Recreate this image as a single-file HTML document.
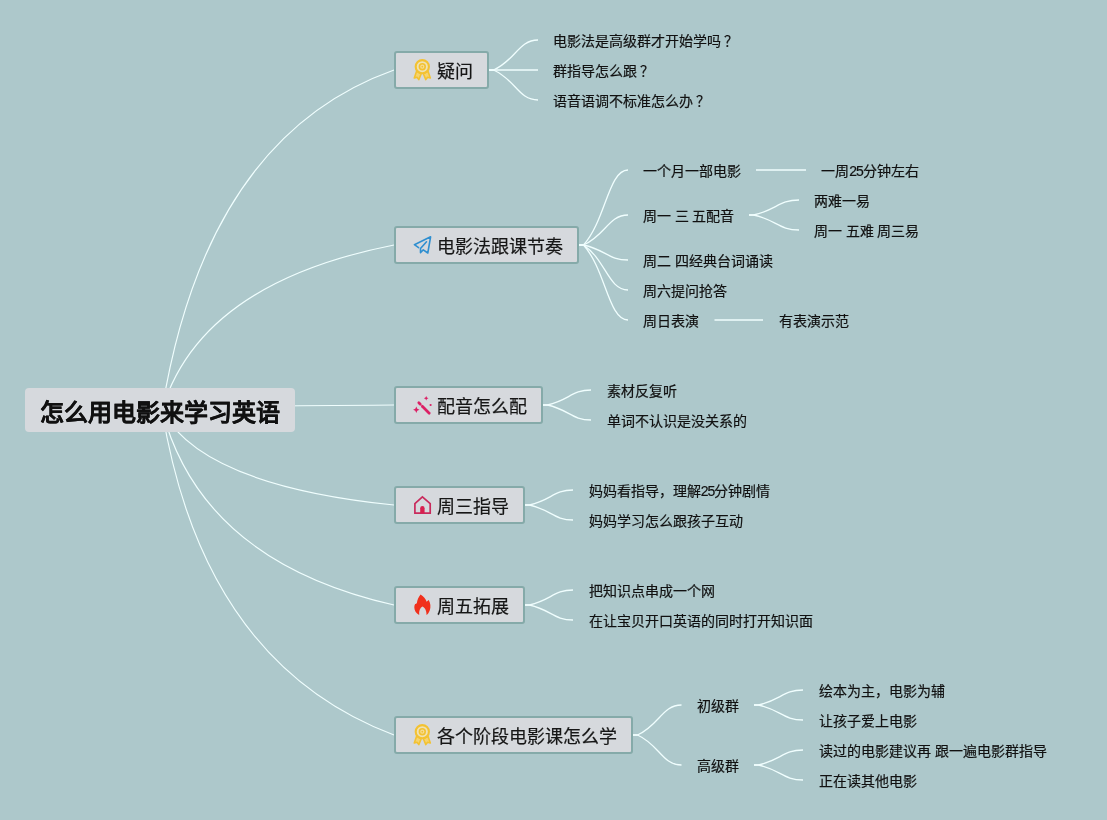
<!DOCTYPE html>
<html lang="zh-CN"><head><meta charset="utf-8"><style>
*{margin:0;padding:0;box-sizing:border-box}
html,body{width:1107px;height:820px;overflow:hidden;background:#adc8cb;font-family:"Liberation Sans",sans-serif;color:#1a1a1a}
svg.lines{position:absolute;left:0;top:0}
#w{position:absolute;left:0;top:0;width:1107px;height:820px;will-change:transform}
.c{position:absolute;background:#d6d9dd;border-radius:4px;font-weight:bold;font-size:24px;display:flex;align-items:center;justify-content:center;color:#111;padding-top:1px;-webkit-text-stroke:0.15px #111}
.m{position:absolute;background:#d6d9dd;border:2px solid #85aaa9;border-radius:3px;font-size:18px;white-space:nowrap;color:#161616}
.m .ic{position:absolute;left:14px;top:4px;width:26px;height:26px}
.m .ic svg{display:block}
.m .tx{position:absolute;left:41.1px;top:3px;line-height:33px;-webkit-text-stroke:0.2px #161616}
.l{position:absolute;font-size:14px;white-space:nowrap;line-height:20px;color:#111;-webkit-text-stroke:0.2px #111}
</style></head><body><div id="w">
<svg class="lines" width="1107" height="820"><g fill="none" stroke="#f0fefe" stroke-width="1.3">
<path d="M162,410 Q206.3,136.8 394,70" stroke-width="1.15"/>
<path d="M489,70 L493.5,70 C515.8,60.1 518.4,40 538,40"/>
<path d="M489,70 L538,70"/>
<path d="M489,70 L493.5,70 C515.8,79.9 518.4,100 538,100"/>
<path d="M162,410 Q200.3,283.1 394,245" stroke-width="1.15"/>
<path d="M579,245 L583.5,245 C605.8,220.2 608.4,170 628,170"/>
<path d="M579,245 L583.5,245 C605.8,235.1 608.4,215 628,215"/>
<path d="M579,245 L583.5,245 C605.8,249.9 608.4,260 628,260"/>
<path d="M579,245 L583.5,245 C605.8,259.9 608.4,290 628,290"/>
<path d="M579,245 L583.5,245 C605.8,269.8 608.4,320 628,320"/>
<path d="M162,410 Q202.0,406.1 394,405" stroke-width="1.15"/>
<path d="M543,405 L547.5,405 C569.2,400.1 571.9,390 591,390"/>
<path d="M543,405 L547.5,405 C569.2,409.9 571.9,420 591,420"/>
<path d="M162,410 Q201.5,485.2 394,505" stroke-width="1.15"/>
<path d="M525,505 L529.5,505 C551.2,500.1 553.9,490 573,490"/>
<path d="M525,505 L529.5,505 C551.2,509.9 553.9,520 573,520"/>
<path d="M162,410 Q201.9,561.4 394,605" stroke-width="1.15"/>
<path d="M525,605 L529.5,605 C551.2,600.0 553.9,590 573,590"/>
<path d="M525,605 L529.5,605 C551.2,610.0 553.9,620 573,620"/>
<path d="M162,410 Q203.1,663.0 394,735" stroke-width="1.15"/>
<path d="M633,735 L637.5,735 C659.5,725.1 662.1,705 681.5,705"/>
<path d="M633,735 L637.5,735 C659.5,744.9 662.1,765 681.5,765"/>
<path d="M756,170 L806,170"/>
<path d="M749,215 L753.5,215 C776.2,210.1 779.0,200 799,200"/>
<path d="M749,215 L753.5,215 C776.2,219.9 779.0,230 799,230"/>
<path d="M714.5,320 L763,320"/>
<path d="M754,705 L758.5,705 C780.8,700.0 783.4,690 803,690"/>
<path d="M754,705 L758.5,705 C780.8,710.0 783.4,720 803,720"/>
<path d="M754,765 L758.5,765 C780.8,760.0 783.4,750 803,750"/>
<path d="M754,765 L758.5,765 C780.8,770.0 783.4,780 803,780"/>
</g></svg>
<div class="c" style="left:25px;top:388px;width:270px;height:44px">怎么用电影来学习英语</div>
<div class="m" style="left:394px;top:51px;width:95px;height:38px"><span class="ic"><svg width="26" height="26" viewBox="0 0 26 26"><g stroke="#f3c232" stroke-linejoin="round"><path d="M6.6 14.2 L4.3 21 L7 20.2 L8.8 22.6 L11.2 16.8 Z M18 14.2 L20.3 21 L17.6 20.2 L15.8 22.6 L13.4 16.8 Z" fill="#f6d470" stroke-width="1.6"/><circle cx="12.3" cy="9.7" r="6.6" fill="#efe2b4" stroke-width="2.1"/><circle cx="12.3" cy="9.7" r="2.9" fill="#f6dd95" stroke-width="1.6"/><circle cx="12.3" cy="9.7" r="0.9" fill="#f3c232" stroke="none"/></g></svg></span><span class="tx">疑问</span></div>
<div class="m" style="left:394px;top:226px;width:185px;height:38px"><span class="ic"><svg width="26" height="26" viewBox="0 0 26 26"><path d="M8.6 15.6 L4.4 12.7 L20.6 4.8 L17.8 21 L13.3 17.8 L10.5 20.6 L10.5 16.5 L16.5 9.8" fill="none" stroke="#2f8fd0" stroke-width="1.6" stroke-linejoin="round" stroke-linecap="round"/></svg></span><span class="tx">电影法跟课节奏</span></div>
<div class="m" style="left:394px;top:386px;width:149px;height:38px"><span class="ic"><svg width="26" height="26" viewBox="0 0 26 26"><g stroke="#dc2065" stroke-width="2.7" stroke-linecap="round"><path d="M8.8 10.8 L10.3 12.3"/><path d="M12.3 14.3 L19.2 21.2"/></g><g fill="#dc2065"><path d="M6.3 14.6 L7.3 16.8 L9.5 17.8 L7.3 18.8 L6.3 21 L5.3 18.8 L3.1 17.8 L5.3 16.8 Z"/><path d="M16.2 4 L16.9 5.6 L18.5 6.3 L16.9 7 L16.2 8.6 L15.5 7 L13.9 6.3 L15.5 5.6 Z"/><circle cx="20.6" cy="13" r="1.1"/></g></svg></span><span class="tx">配音怎么配</span></div>
<div class="m" style="left:394px;top:486px;width:131px;height:38px"><span class="ic"><svg width="26" height="26" viewBox="0 0 26 26"><path d="M4.9 21.2 L4.9 11.6 L12.4 4.9 L20.2 11.6 L20.2 21.2 Z" fill="none" stroke="#c92a5c" stroke-width="1.7" stroke-linejoin="miter"/><path d="M10.2 21.2 L10.2 16.3 A2.2 2.2 0 0 1 14.6 16.3 L14.6 21.2 Z" fill="#d8204f"/></svg></span><span class="tx">周三指导</span></div>
<div class="m" style="left:394px;top:586px;width:131px;height:38px"><span class="ic"><svg width="26" height="26" viewBox="0 0 26 26"><path d="M10.5 2.5 C13.5 4.3 15.9 6.8 16.6 9.8 L18.7 7.9 C20.5 11 21 15 19.8 18.2 C19 20.5 17.8 22 16.5 22.9 C16.6 19 15 15.5 12.4 14.6 C10 15.8 8.8 19 9.2 22.9 C6 21.5 4.3 18.5 4.3 15.3 C4.3 14 4.6 13 5.1 12.1 C5.8 12.2 6.4 11.8 6.9 11.1 C7.2 8 8.6 5 10.5 2.5 Z" fill="#f0301c"/></svg></span><span class="tx">周五拓展</span></div>
<div class="m" style="left:394px;top:716px;width:239px;height:38px"><span class="ic"><svg width="26" height="26" viewBox="0 0 26 26"><g stroke="#f3c232" stroke-linejoin="round"><path d="M6.6 14.2 L4.3 21 L7 20.2 L8.8 22.6 L11.2 16.8 Z M18 14.2 L20.3 21 L17.6 20.2 L15.8 22.6 L13.4 16.8 Z" fill="#f6d470" stroke-width="1.6"/><circle cx="12.3" cy="9.7" r="6.6" fill="#efe2b4" stroke-width="2.1"/><circle cx="12.3" cy="9.7" r="2.9" fill="#f6dd95" stroke-width="1.6"/><circle cx="12.3" cy="9.7" r="0.9" fill="#f3c232" stroke="none"/></g></svg></span><span class="tx">各个阶段电影课怎么学</span></div>
<div class="l" style="left:552.7px;top:30.7px">电影法是高级群才开始学吗<span style="margin-left:3px">？</span></div>
<div class="l" style="left:552.7px;top:60.7px">群指导怎么跟<span style="margin-left:3px">？</span></div>
<div class="l" style="left:552.7px;top:90.7px">语音语调不标准怎么办<span style="margin-left:3px">？</span></div>
<div class="l" style="left:642.7px;top:160.7px">一个月一部电影</div>
<div class="l" style="left:642.7px;top:205.7px">周一 三 五配音</div>
<div class="l" style="left:642.7px;top:250.7px">周二 四经典台词诵读</div>
<div class="l" style="left:642.7px;top:280.7px">周六提问抢答</div>
<div class="l" style="left:642.7px;top:310.7px">周日表演</div>
<div class="l" style="left:606.7px;top:380.7px">素材反复听</div>
<div class="l" style="left:606.7px;top:410.7px">单词不认识是没关系的</div>
<div class="l" style="left:588.7px;top:480.7px">妈妈看指导，理解<span style="letter-spacing:-1px">25</span>分钟剧情</div>
<div class="l" style="left:588.7px;top:510.7px">妈妈学习怎么跟孩子互动</div>
<div class="l" style="left:588.7px;top:580.7px">把知识点串成一个网</div>
<div class="l" style="left:588.7px;top:610.7px">在让宝贝开口英语的同时打开知识面</div>
<div class="l" style="left:696.7px;top:695.7px">初级群</div>
<div class="l" style="left:696.7px;top:755.7px">高级群</div>
<div class="l" style="left:821.2px;top:160.7px">一周<span style="letter-spacing:-1px">25</span>分钟左右</div>
<div class="l" style="left:813.7px;top:190.7px">两难一易</div>
<div class="l" style="left:813.7px;top:220.7px">周一 五难 周三易</div>
<div class="l" style="left:779.2px;top:310.7px">有表演示范</div>
<div class="l" style="left:819.2px;top:680.7px">绘本为主，电影为辅</div>
<div class="l" style="left:819.2px;top:710.7px">让孩子爱上电影</div>
<div class="l" style="left:819.2px;top:740.7px">读过的电影建议再 跟一遍电影群指导</div>
<div class="l" style="left:819.2px;top:770.7px">正在读其他电影</div>
</div></body></html>
